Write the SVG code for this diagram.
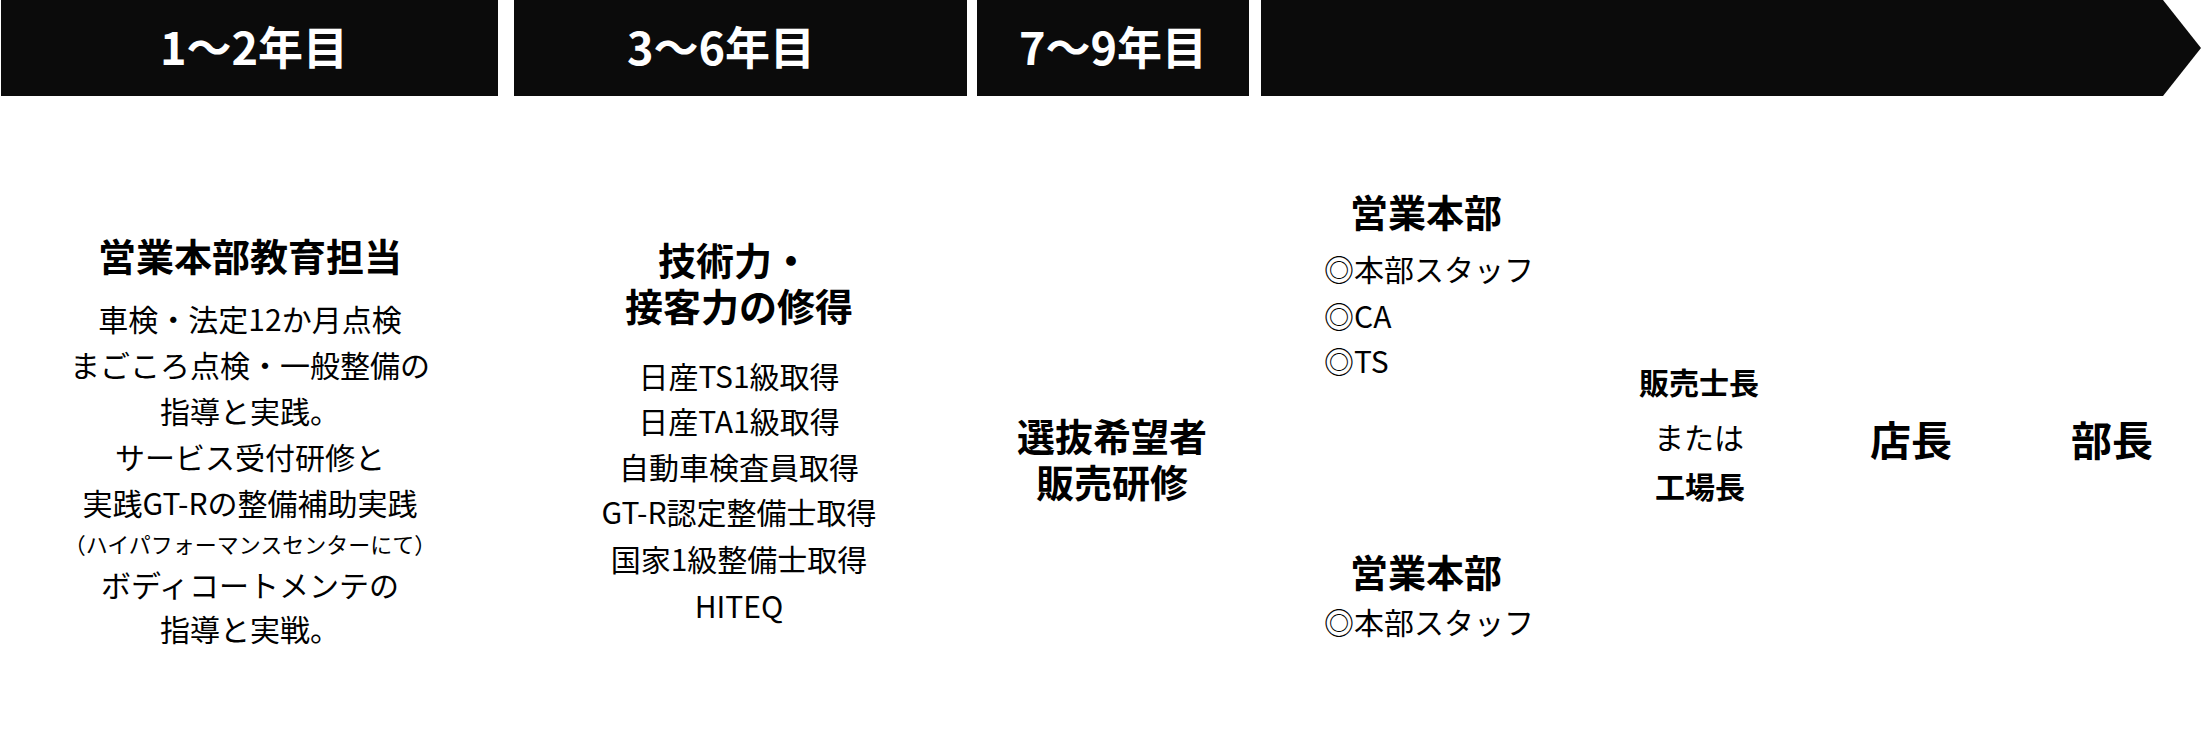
<svg xmlns="http://www.w3.org/2000/svg" width="2202" height="754" viewBox="0 0 2202 754">
<style>
text{font-family:"Noto Sans CJK JP","Noto Sans",sans-serif;fill:#000;text-anchor:middle}
.hd{fill:#fff;font-size:45px;font-weight:700}
.b38{font-size:38px;font-weight:700}
.b30{font-size:30px;font-weight:700}
.b41{font-size:41px;font-weight:700}
.r30{font-size:30px}
.r21{font-size:22px}
.l{text-anchor:start}
.bar{fill:#0b0b0b}
</style>
<rect width="2202" height="754" fill="#fff"/>
<g id="header">
<g id="h1"><rect class="bar" x="1" y="0" width="497" height="96"/><text class="hd" x="254" y="65">1～2年目</text></g>
<g id="h2"><rect class="bar" x="514" y="0" width="453" height="96"/><text class="hd" x="721" y="65">3～6年目</text></g>
<g id="h3"><rect class="bar" x="977" y="0" width="272" height="96"/><text class="hd" x="1113" y="65">7～9年目</text></g>
<g id="h4"><polygon class="bar" points="1261,0 2163,0 2201,48 2163,96 1261,96"/></g>
</g>
<g id="col1">
<text class="b38" x="250" y="271">営業本部教育担当</text>
<text class="r30" x="250" y="331">車検・法定12か月点検</text>
<text class="r30" x="250" y="377">まごころ点検・一般整備の</text>
<text class="r30" x="250" y="423">指導と実践。</text>
<text class="r30" x="250" y="469">サービス受付研修と</text>
<text class="r30" x="250" y="515">実践GT-Rの整備補助実践</text>
<text class="r21" x="250" y="553">（ハイパフォーマンスセンターにて）</text>
<text class="r30" x="250" y="597">ボディコートメンテの</text>
<text class="r30" x="250" y="641">指導と実戦。</text>
</g>
<g id="col2">
<text class="b38"><tspan x="734" y="275">技術力・</tspan><tspan x="739" y="321">接客力の修得</tspan></text>
<text class="r30" x="739" y="388">日産TS1級取得</text>
<text class="r30" x="739" y="433">日産TA1級取得</text>
<text class="r30" x="739" y="479">自動車検査員取得</text>
<text class="r30" x="739" y="524">GT-R認定整備士取得</text>
<text class="r30" x="739" y="571">国家1級整備士取得</text>
<text class="r30" x="739" y="618">HITEQ</text>
</g>
<g id="col3">
<text class="b38"><tspan x="1112" y="451">選抜希望者</tspan><tspan x="1112" y="497">販売研修</tspan></text>
</g>
<g id="col4a">
<text class="b38" x="1426" y="227">営業本部</text>
<text class="r30 l" x="1324" y="281">◎本部スタッフ</text>
<text class="r30 l" x="1324" y="328">◎CA</text>
<text class="r30 l" x="1324" y="373">◎TS</text>
</g>
<g id="col4b">
<text class="b38" x="1426" y="587">営業本部</text>
<text class="r30 l" x="1324" y="634">◎本部スタッフ</text>
</g>
<g id="col5">
<text class="b30" x="1699" y="394">販売士長</text>
<text class="r30" x="1699" y="449">または</text>
<text class="b30" x="1700" y="498">工場長</text>
</g>
<g id="col6"><text class="b41" x="1911" y="456">店長</text></g>
<g id="col7"><text class="b41" x="2112" y="456">部長</text></g>
<g id="connectors"/>
</svg>
